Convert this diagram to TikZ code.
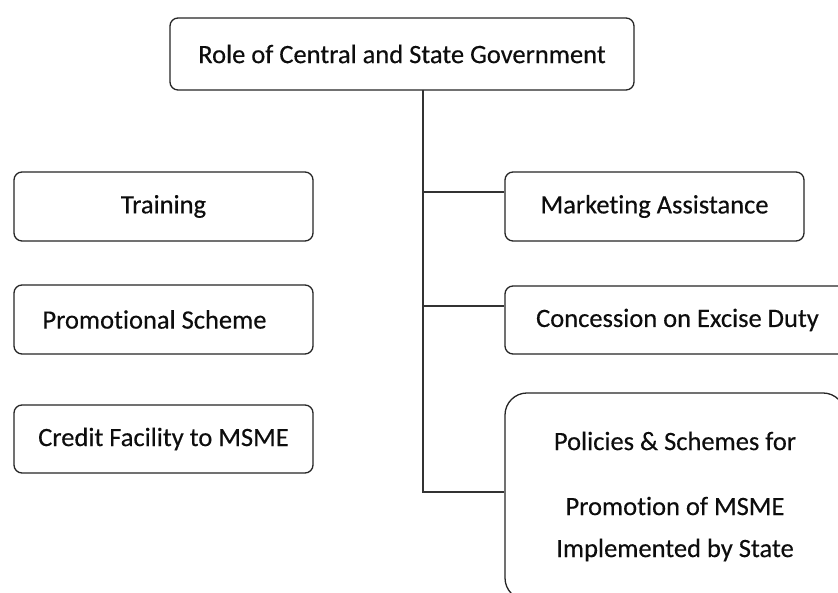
\documentclass[tikz,border=0pt]{standalone}
\usepackage{fontspec}
\setmainfont{Carlito}[Ligatures=NoCommon, FakeBold=0.3]
\usetikzlibrary{calc}
\begin{document}
\begin{tikzpicture}[x=1pt,y=1pt,
  box/.style={draw=black!85, line width=1.3pt, rounded corners=8pt, fill=white,
    inner sep=0pt, font=\fontsize{26.5}{30}\selectfont, text=black!95},
  bigbox/.style={box, rounded corners=22pt},
  link/.style={draw=black!80, line width=1.3pt}]
\clip (0,0) rectangle (838,593);
\fill[white] (0,0) rectangle (838,593);

% head of the tree
\node[box, minimum width=464pt, minimum height=72pt] (top) at (402,539) {Role of Central and State Government};

% left column
\node[box, minimum width=299pt, minimum height=69pt] (train) at (163.5,386.5) {Training};
\node[box, minimum width=299pt, minimum height=69pt] (promo) at (163.5,273.5) {Promotional Scheme\kern18pt};
\node[box, minimum width=299pt, minimum height=68pt] (credit) at (163.5,154) {Credit Facility to MSME};

% right column
\node[box, minimum width=299pt, minimum height=69pt] (mkt) at (654.5,386.5) {Marketing Assistance};
\node[box, minimum width=345pt, minimum height=68pt] (exc) at (677.5,273) {Concession on Excise Duty};
\node[bigbox, minimum width=340pt, minimum height=207pt, align=center,
  font=\fontsize{26.5}{42}\selectfont] (pol) at (675,96.5)
  {Policies \& Schemes for\\[23pt] Promotion of MSME\\ Implemented by State};

% trunk and branches
\coordinate (t0) at (423,503);
\coordinate (b1) at (423,401);
\coordinate (b2) at (423,287);
\coordinate (b3) at (423,101);
\draw[link] (t0) -- (b3) -- (b3 -| pol.west);
\draw[link] (b1) -- (b1 -| mkt.west);
\draw[link] (b2) -- (b2 -| exc.west);
\end{tikzpicture}
\end{document}
